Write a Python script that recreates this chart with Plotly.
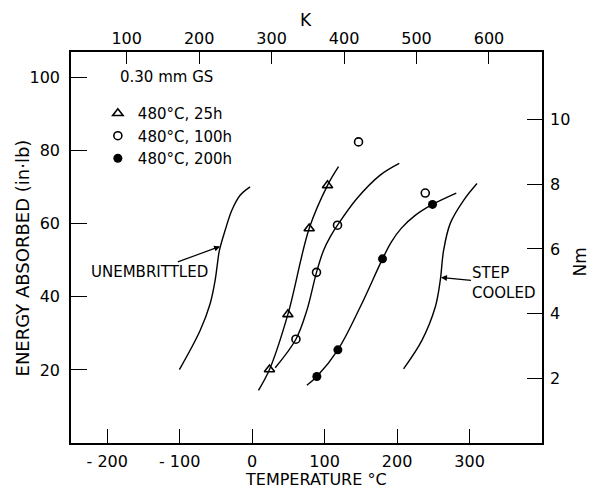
import plotly.graph_objects as go

# ---------------- data ----------------
NM_PER_INLB = 1 / 8.8507   # 1 N·m = 8.8507 in·lb
K_OFFSET = 273.15

# measured points
tri_x = [23.9, 49.3, 78.7, 104.0]
tri_y = [20.1, 35.2, 58.7, 70.5]
open_x = [60.4, 88.8, 117.8, 146.8, 238.9]
open_y = [28.4, 46.7, 59.6, 82.4, 68.4]
filled_x = [89.3, 118.3, 179.9, 248.9]
filled_y = [18.2, 25.5, 50.4, 65.3]

# hand-drawn curves
unemb_x = [-100.4, -71.8, -58.0, -51.1, -47.9, -45.2, -37.3, -28.0, -16.6, -2.8]
unemb_y = [20.1, 30.8, 38.1, 44.5, 49.1, 52.7, 58.2, 63.7, 67.8, 70.1]
tri_curve_x = [8.7, 23.9, 49.3, 78.7, 104.0, 119.2]
tri_curve_y = [14.4, 20.1, 35.2, 58.7, 70.5, 75.6]
open_curve_x = [31.8, 60.4, 75.5, 88.8, 98.5, 107.7, 117.8, 144.6, 176.7, 203.0]
open_curve_y = [20.6, 28.4, 36.3, 46.7, 52.7, 56.4, 59.6, 66.9, 73.3, 76.5]
filled_curve_x = [75.5, 89.3, 118.3, 149.1, 179.9, 192.0, 206.0, 225.0, 248.9, 281.7]
filled_curve_y = [15.8, 18.2, 25.5, 37.2, 50.4, 55.0, 58.8, 62.3, 65.3, 68.4]
step_x = [208.9, 234.3, 252.7, 259.6, 264.2, 273.4, 291.8, 310.3]
step_y = [20.3, 28.1, 37.2, 44.5, 52.7, 60.1, 66.4, 71.0]

# axes
x_range = [-250, 400]
y_range = [0, 107]
x_ticks = [-200, -100, 0, 100, 200, 300]
x_ticktext = ["- 200", "- 100", "0", "100", "200", "300"]
y_ticks = [20, 40, 60, 80, 100]
k_ticks = [100, 200, 300, 400, 500, 600]
nm_ticks = [2, 4, 6, 8, 10]

series_names = ["480°C, 25h", "480°C, 100h", "480°C, 200h"]

FONT = "DejaVu Sans"
BLACK = "black"

fig = go.Figure()

curve_style = dict(mode="lines", line=dict(color=BLACK, width=1.4, shape="spline", smoothing=1.0),
                   showlegend=False, hoverinfo="skip")
for cx, cy in [(unemb_x, unemb_y), (tri_curve_x, tri_curve_y),
               (open_curve_x, open_curve_y), (filled_curve_x, filled_curve_y),
               (step_x, step_y)]:
    fig.add_trace(go.Scatter(x=cx, y=cy, **curve_style))

fig.add_trace(go.Scatter(x=tri_x, y=tri_y, mode="markers", name=series_names[0],
                         marker=dict(symbol="triangle-up-open", size=9, color=BLACK,
                                     line=dict(width=1.6, color=BLACK))))
fig.add_trace(go.Scatter(x=open_x, y=open_y, mode="markers", name=series_names[1],
                         marker=dict(symbol="circle-open", size=8, color=BLACK,
                                     line=dict(width=1.6, color=BLACK))))
fig.add_trace(go.Scatter(x=filled_x, y=filled_y, mode="markers", name=series_names[2],
                         marker=dict(symbol="circle", size=9, color=BLACK)))

# helper trace on secondary axes (K, N·m) so they get drawn
fig.add_trace(go.Scatter(x=[v + K_OFFSET for v in tri_x], y=[v * NM_PER_INLB for v in tri_y],
                         xaxis="x2", yaxis="y2", mode="markers", marker=dict(opacity=0),
                         showlegend=False, hoverinfo="skip"))

axis_common = dict(showline=True, linecolor=BLACK, linewidth=1.6, ticks="inside",
                   tickcolor=BLACK, tickwidth=1.4, showgrid=False, zeroline=False,
                   tickfont=dict(family=FONT, size=16, color=BLACK))

fig.update_layout(
    width=606, height=489,
    margin=dict(l=71, r=64, t=52, b=46),
    paper_bgcolor="white", plot_bgcolor="white",
    font=dict(family=FONT, color=BLACK),
    xaxis=dict(range=x_range, tickvals=x_ticks, ticktext=x_ticktext, ticklen=14,
               ticklabelstandoff=3, **axis_common),
    yaxis=dict(range=y_range, tickvals=y_ticks, ticklen=16, ticklabelstandoff=6,
               **axis_common),
    xaxis2=dict(overlaying="x", side="top", anchor="y",
                range=[x_range[0] + K_OFFSET, x_range[1] + K_OFFSET],
                tickvals=k_ticks, ticklen=12, ticklabelstandoff=0, **axis_common),
    yaxis2=dict(overlaying="y", side="right", anchor="x",
                range=[y_range[0] * NM_PER_INLB, y_range[1] * NM_PER_INLB],
                tickvals=nm_ticks, ticklen=15, ticklabelstandoff=3, **axis_common),
    legend=dict(x=0.057, y=0.885, xanchor="left", yanchor="top",
                bgcolor="rgba(0,0,0,0)", borderwidth=0,
                font=dict(family=FONT, size=15, color=BLACK), tracegroupgap=0),
    showlegend=True,
)

ann_font = dict(family=FONT, size=15, color=BLACK)
annotations = [
    dict(text="ENERGY ABSORBED (in·lb)", xref="paper", yref="paper", x=-0.104, y=0.472,
         xanchor="center", yanchor="middle",
         textangle=-90, showarrow=False, font=dict(family=FONT, size=18, color=BLACK)),
    dict(text="Nm", xref="paper", yref="paper", x=1.081, y=0.462,
         xanchor="center", yanchor="middle",
         textangle=-90, showarrow=False, font=dict(family=FONT, size=17, color=BLACK)),
    dict(text="TEMPERATURE °C", xref="paper", yref="paper", x=0.52, y=-0.094,
         xanchor="center", yanchor="middle",
         showarrow=False, font=dict(family=FONT, size=16, color=BLACK)),
    dict(text="K", xref="paper", yref="paper", x=0.499, y=1.081,
         xanchor="center", yanchor="middle",
         showarrow=False, font=dict(family=FONT, size=17, color=BLACK)),
    dict(text="0.30 mm GS", xref="paper", yref="paper", x=0.0998, y=0.935,
         xanchor="left", yanchor="middle", showarrow=False, font=ann_font),
    dict(text="UNEMBRITTLED", x=-44.2, y=53.8, xref="x", yref="y",
         ax=-71, ay=26, showarrow=True, arrowhead=2, arrowsize=1, arrowwidth=1.2,
         arrowcolor=BLACK, font=ann_font),
    dict(text="STEP<br>COOLED", x=260.6, y=45.3, xref="x", yref="y", align="left",
         ax=63, ay=6, showarrow=True, arrowhead=2, arrowsize=1, arrowwidth=1.2,
         arrowcolor=BLACK, font=ann_font),
]
fig.update_layout(annotations=annotations)

fig.write_html("out.html")
